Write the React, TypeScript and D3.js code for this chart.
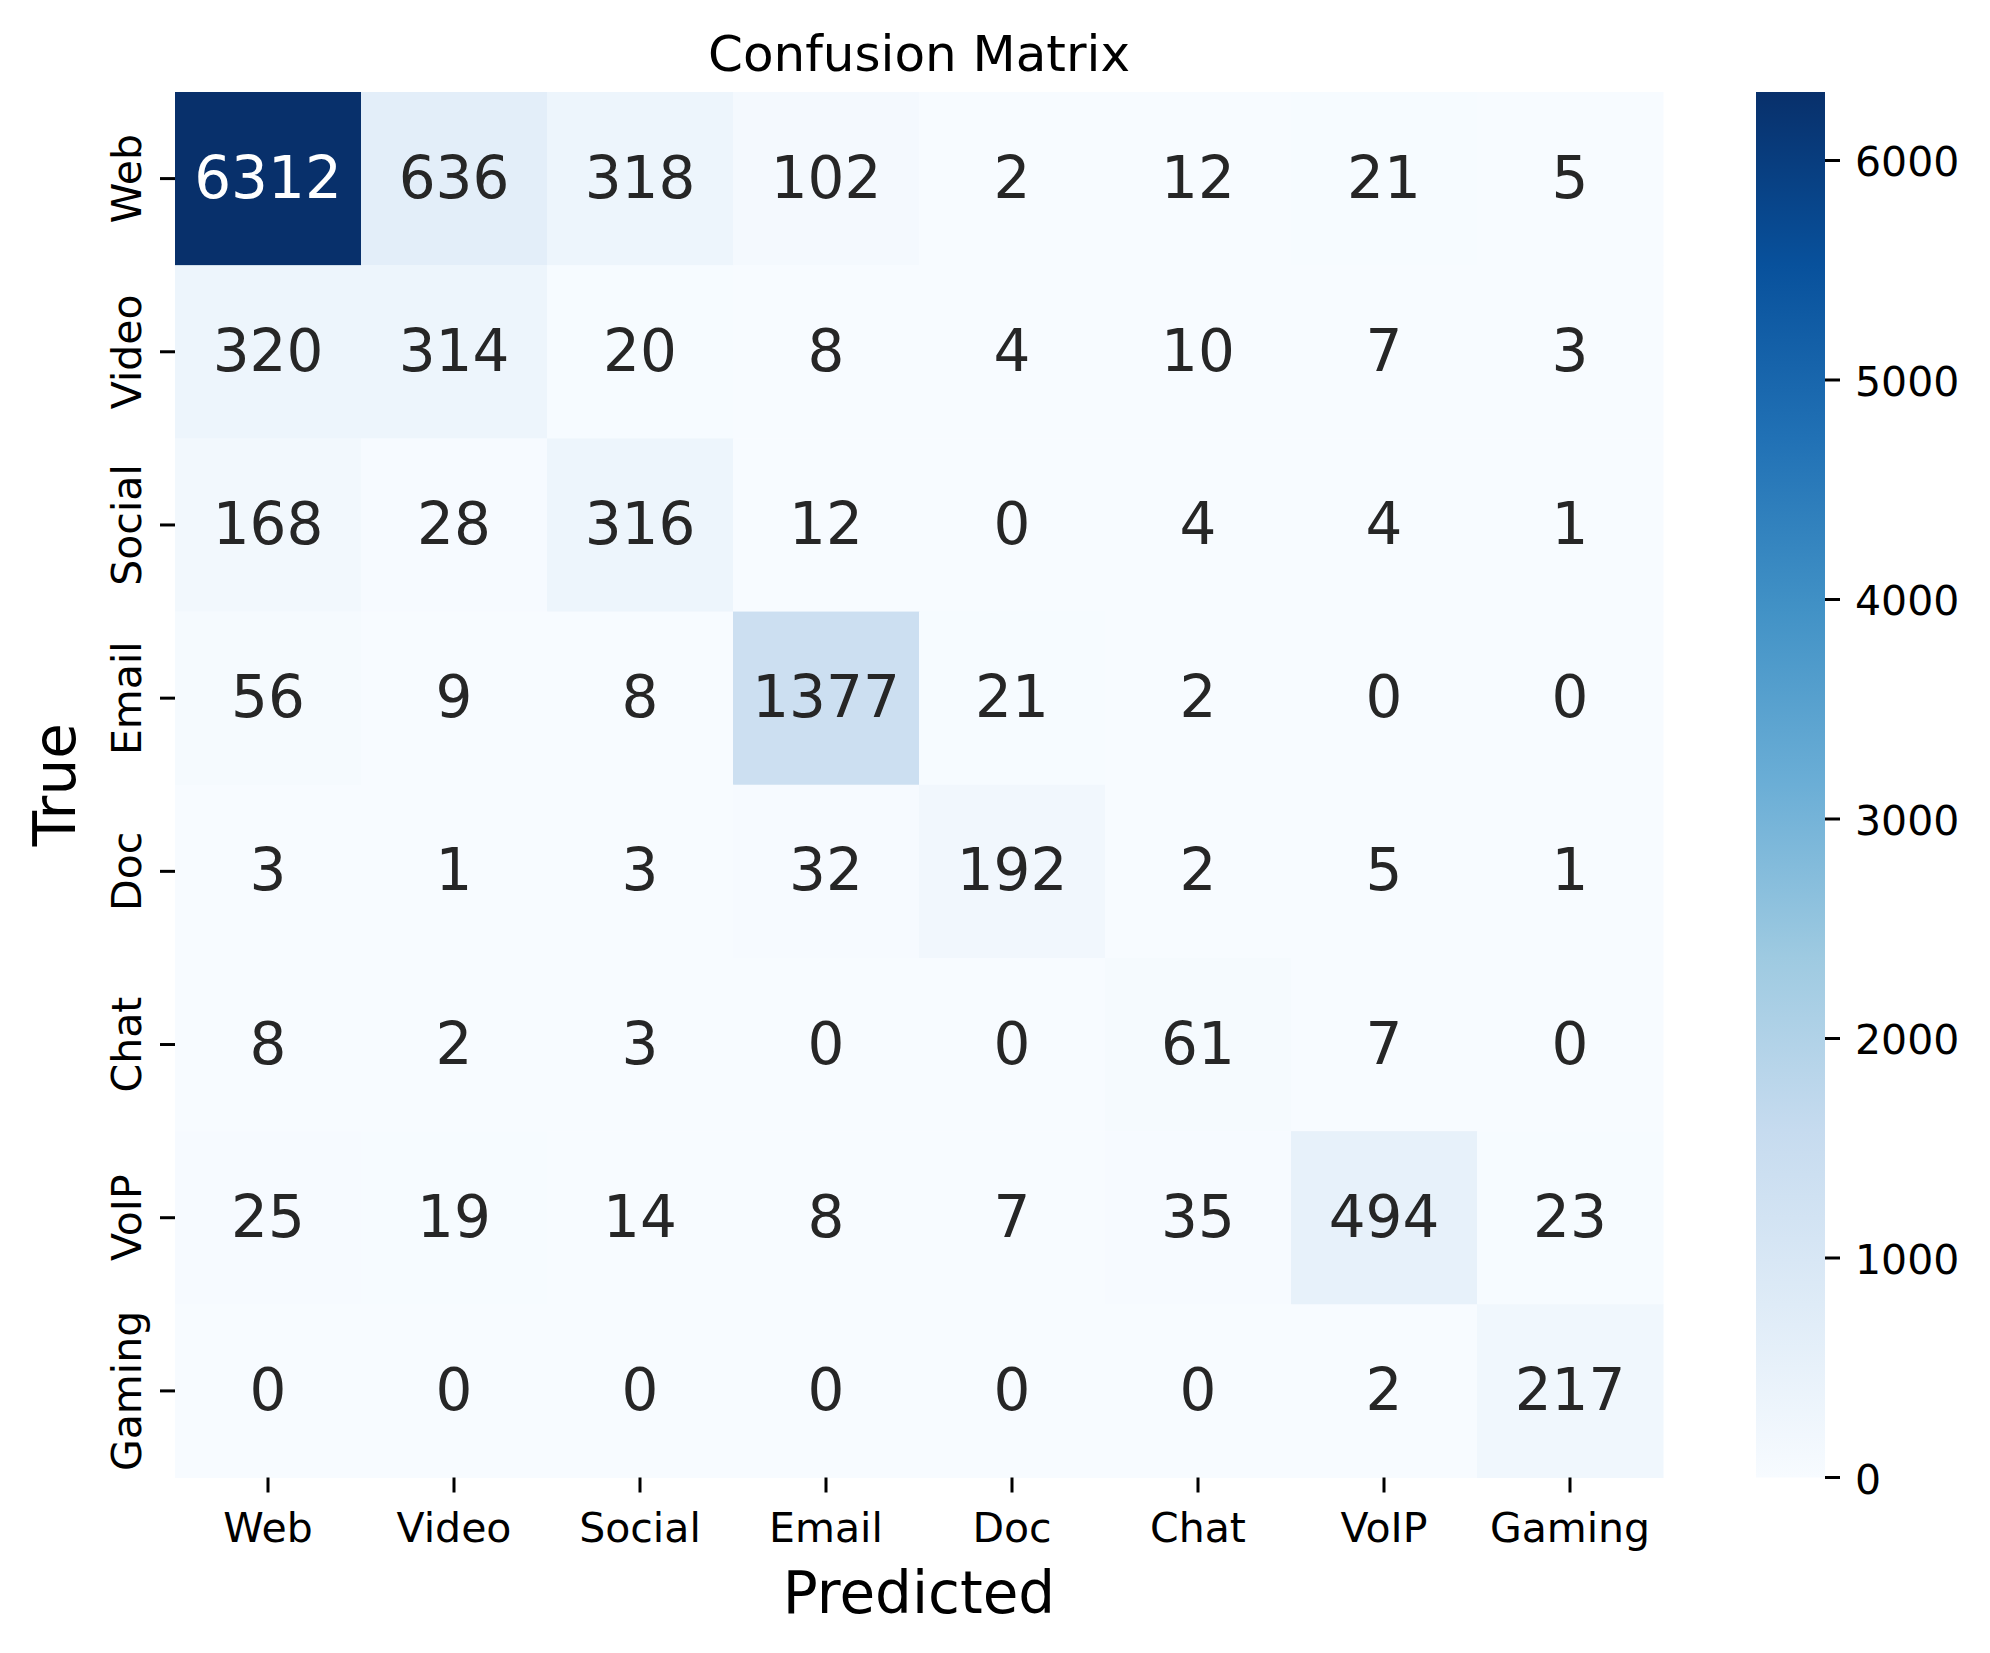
import React from "react";
import * as d3 from "d3";

const categories = ["Web", "Video", "Social", "Email", "Doc", "Chat", "VoIP", "Gaming"];
const rowWeb = [6312, 636, 318, 102, 2, 12, 21, 5];
const rowVideo = [320, 314, 20, 8, 4, 10, 7, 3];
const rowSocial = [168, 28, 316, 12, 0, 4, 4, 1];
const rowEmail = [56, 9, 8, 1377, 21, 2, 0, 0];
const rowDoc = [3, 1, 3, 32, 192, 2, 5, 1];
const rowChat = [8, 2, 3, 0, 0, 61, 7, 0];
const rowVoIP = [25, 19, 14, 8, 7, 35, 494, 23];
const rowGaming = [0, 0, 0, 0, 0, 0, 2, 217];
const colorbarTicks = [0, 1000, 2000, 3000, 4000, 5000, 6000];
const blues = ["#f7fbff", "#deebf7", "#c6dbef", "#9ecae1", "#6baed6", "#4292c6", "#2171b5", "#08519c", "#08306b"];

const matrix = [rowWeb, rowVideo, rowSocial, rowEmail, rowDoc, rowChat, rowVoIP, rowGaming];

const W = 1990;
const H = 1653;
const left = 175;
const right = 1663;
const top = 92;
const bottom = 1477.5;
const cbLeft = 1756;
const cbRight = 1825;
const FONT = "DejaVu Sans";
const TICK_FS = 41;

export default function App() {
  const maxV = d3.max(matrix.flat()) as number;
  const x = d3.scaleBand<string>().domain(categories).range([left, right]).padding(0);
  const y = d3.scaleBand<string>().domain(categories).range([top, bottom]).padding(0);
  const stops = blues.map((_, i) => (i / (blues.length - 1)) * maxV);
  const color = d3.scaleLinear<string>().domain(stops).range(blues).interpolate(d3.interpolateRgb);
  const cb = d3.scaleLinear().domain([0, maxV]).range([bottom, top]);

  const lum = (c: string) => {
    const rgb = d3.rgb(c);
    const f = (v: number) => {
      const s = v / 255;
      return s <= 0.03928 ? s / 12.92 : Math.pow((s + 0.055) / 1.055, 2.4);
    };
    return 0.2126 * f(rgb.r) + 0.7152 * f(rgb.g) + 0.0722 * f(rgb.b);
  };

  const bw = x.bandwidth();
  const bh = y.bandwidth();

  return (
    <div style={{ position: "absolute", left: 0, top: 0 }}>
      <svg width={W} height={H} style={{ display: "block", background: "#fff" }} fontFamily={FONT}>
        <defs>
          <linearGradient id="cbgrad" x1="0" y1="1" x2="0" y2="0">
            {blues.map((c, i) => (
              <stop key={i} offset={`${(i / (blues.length - 1)) * 100}%`} stopColor={c} />
            ))}
          </linearGradient>
        </defs>
        <text x={(left + right) / 2} y={71} textAnchor="middle" fontSize={50} fill="#000">
          Confusion Matrix
        </text>
        {matrix.map((row, ri) =>
          row.map((v, ci) => {
            const c = color(v);
            return (
              <g key={`${ri}-${ci}`}>
                <rect
                  x={x(categories[ci])}
                  y={y(categories[ri])}
                  width={bw + 0.5}
                  height={bh + 0.5}
                  fill={c}
                />
                <text
                  x={(x(categories[ci]) as number) + bw / 2}
                  y={(y(categories[ri]) as number) + bh / 2 + 19}
                  textAnchor="middle"
                  fontSize={58}
                  fill={lum(c) > 0.408 ? "#262626" : "#ffffff"}
                >
                  {v}
                </text>
              </g>
            );
          })
        )}
        {categories.map((c) => {
          const cx = (x(c) as number) + bw / 2;
          return (
            <g key={`xt-${c}`}>
              <line x1={cx} x2={cx} y1={bottom} y2={bottom + 15} stroke="#000" strokeWidth={3} />
              <text x={cx} y={1542} textAnchor="middle" fontSize={TICK_FS} fill="#000">
                {c}
              </text>
            </g>
          );
        })}
        {categories.map((c) => {
          const cy = (y(c) as number) + bh / 2;
          return (
            <g key={`yt-${c}`}>
              <line x1={left - 15} x2={left} y1={cy} y2={cy} stroke="#000" strokeWidth={3} />
              <text
                transform={`translate(141,${cy}) rotate(-90)`}
                textAnchor="middle"
                fontSize={TICK_FS}
                fill="#000"
              >
                {c}
              </text>
            </g>
          );
        })}
        <text x={(left + right) / 2} y={1613} textAnchor="middle" fontSize={58} fill="#000">
          Predicted
        </text>
        <text
          transform={`translate(75,${(top + bottom) / 2}) rotate(-90)`}
          textAnchor="middle"
          fontSize={58}
          fill="#000"
        >
          True
        </text>
        <rect x={cbLeft} y={top} width={cbRight - cbLeft} height={bottom - top} fill="url(#cbgrad)" />
        {colorbarTicks.map((t) => (
          <g key={`cb-${t}`}>
            <line x1={cbRight} x2={cbRight + 15} y1={cb(t)} y2={cb(t)} stroke="#000" strokeWidth={3} />
            <text x={1855} y={cb(t) + 16} fontSize={TICK_FS} fill="#000">
              {t}
            </text>
          </g>
        ))}
      </svg>
    </div>
  );
}
